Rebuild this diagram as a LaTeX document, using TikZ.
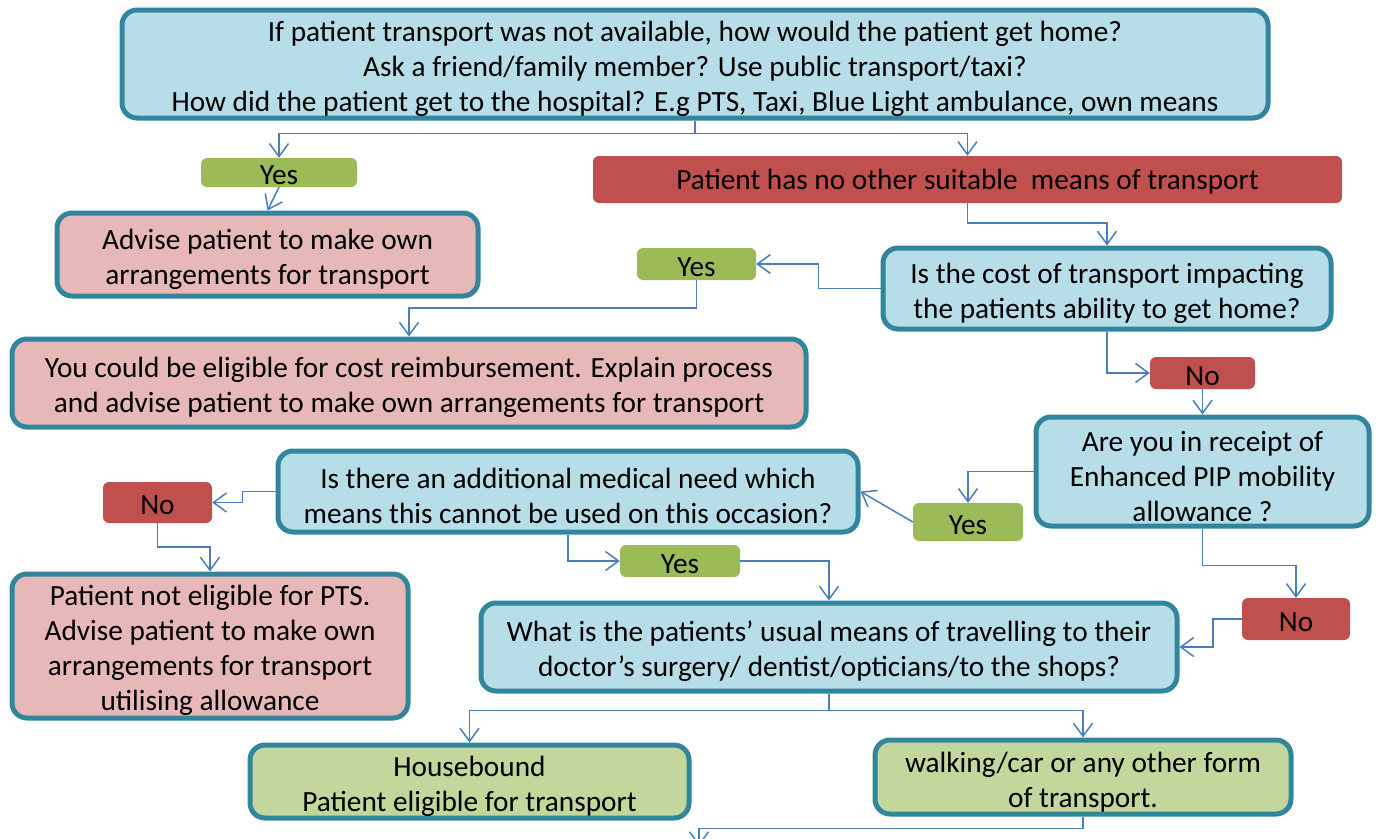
\documentclass[tikz,border=0pt]{standalone}
\usepackage{fontspec}
\setmainfont{Carlito}
\usetikzlibrary{arrows.meta}
\definecolor{bfill}{HTML}{B7DEE8}
\definecolor{bdraw}{HTML}{31859C}
\definecolor{pfill}{HTML}{E6B9B8}
\definecolor{rfill}{HTML}{C0504D}
\definecolor{gfill}{HTML}{9BBB59}
\definecolor{lgfill}{HTML}{C3D69B}
\definecolor{conncol}{HTML}{4A7EBB}
\newcommand\fl{\rule{0pt}{30pt}}
\begin{document}
\begin{tikzpicture}[x=1pt,y=-1pt,
  every node/.style={font=\fontsize{29.3}{35}\selectfont, align=center, inner sep=0pt},
  bigbox/.style={draw=bdraw, line width=5pt, rounded corners=15pt},
  bluebox/.style={bigbox, fill=bfill},
  pinkbox/.style={bigbox, fill=pfill},
  lgbox/.style={bigbox, fill=lgfill},
  tag/.style={rounded corners=6pt, execute at begin node={\rule{0pt}{25pt}}},
  redtag/.style={tag, fill=rfill},
  greentag/.style={tag, fill=gfill},
  sz/.style 2 args={minimum width=#1pt, minimum height=#2pt},
  conn/.style={draw=conncol, line width=1.5pt, -{Straight Barb[length=13pt,width=19pt]}}
]
\useasboundingbox (0,0) rectangle (1376,838);

\node[bluebox, sz={1146}{108}] (top) at (695,64) {\fl If patient transport was not available, how would the patient get home?\\Ask a friend/family member? Use public transport/taxi?\\How did the patient get to the hospital? E.g PTS, Taxi, Blue Light ambulance, own means};
\node[greentag, sz={156}{29}] (yes1) at (279,172.5) {Yes};
\node[redtag, sz={749}{47}] (red1) at (967.5,179.5) {Patient has no other suitable\ \ means of transport};
\node[pinkbox, sz={421}{83}] (advise) at (267.5,254.5) {\fl Advise patient to make own\\arrangements for transport};
\node[greentag, sz={119}{32}] (yes2) at (696.5,264) {Yes};
\node[bluebox, sz={448}{81}] (cost) at (1107,288.5) {\fl Is the cost of transport impacting\\the patients ability to get home?};
\node[pinkbox, sz={794}{88}] (could) at (409,383) {\fl You could be eligible for cost reimbursement. Explain process\\and advise patient to make own arrangements for transport};
\node[redtag, sz={105}{32}] (no1) at (1202.5,373) {No};
\node[bluebox, sz={333}{109}] (pip) at (1202.5,471.5) {\fl Are you in receipt of\\Enhanced PIP mobility\\allowance ?};
\node[bluebox, sz={580}{81}] (med) at (568,491.5) {\fl Is there an additional medical need which\\means this cannot be used on this occasion?};
\node[redtag, sz={109}{41}] (no2) at (157.5,502.5) {No};
\node[greentag, sz={110}{38}] (yes3) at (968,522) {Yes};
\node[greentag, sz={120}{32}] (yes4) at (680,561) {Yes};
\node[pinkbox, sz={396}{144}] (ne) at (210,646) {\fl Patient not eligible for PTS.\\Advise patient to make own\\arrangements for transport\\utilising allowance};
\node[redtag, sz={108}{42}] (no3) at (1296,619) {No};
\node[bluebox, sz={696}{88}] (usual) at (829,647) {\fl What is the patients’ usual means of travelling to their\\doctor’s surgery/ dentist/opticians/to the shops?};
\node[lgbox, sz={439}{73}] (hb) at (469.5,781.5) {\fl Housebound\\Patient eligible for transport};
\node[lgbox, sz={416}{74}] (walk) at (1083,777) {\fl walking/car or any other form\\of transport.};
\coordinate (endpt) at (699,846);

\draw[conn] (top.south) -- ++(0,13) -| (yes1.north);
\draw[conn] (top.south) -- ++(0,13) -| (red1.north);
\draw[conn] (yes1.south) -- (advise.north);
\draw[conn] (red1.south) -- ++(0,20) -| (cost.north);
\draw[conn] (cost.west) -- ++(-62,0) |- (yes2.east);
\draw[conn] (yes2.south) -- ++(0,28) -| (could.north);
\draw[conn] (cost.south) |- (no1.west);
\draw[conn] (no1.south) -- (pip.north);
\draw[conn] (pip.west) -| (yes3.north);
\draw[conn] (yes3.west) -- (med.east);
\draw[conn] (med.west) -- ++(-33,0) |- (no2.east);
\draw[conn] (no2.south) -- ++(0,24) -| (ne.north);
\draw[conn] (med.south) |- (yes4.west);
\draw[conn] (yes4.east) -| (usual.north);
\draw[conn] (pip.south) -- ++(0,37) -| (no3.north);
\draw[conn] (no3.west) -- ++(-29,0) |- (usual.east);
\draw[conn] (usual.south) -- ++(0,17) -| (hb.north);
\draw[conn] (usual.south) -- ++(0,17) -| (walk.north);
\draw[conn] (walk.south) -- ++(0,12) -| (endpt);
\end{tikzpicture}
\end{document}
